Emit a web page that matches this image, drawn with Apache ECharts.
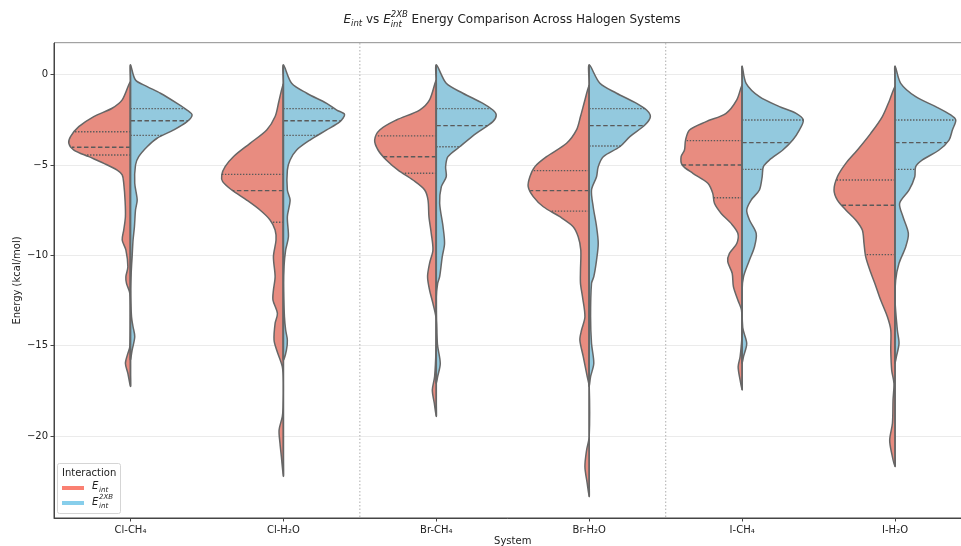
<!DOCTYPE html>
<html>
<head>
<meta charset="utf-8">
<script src="https://cdn.jsdelivr.net/npm/echarts@6/dist/echarts.min.js"></script>
<style>
  html, body { margin: 0; padding: 0; background: #fff; overflow: hidden; }
  #chart { width: 961px; height: 546px; }
</style>
</head>
<body>
<div id="chart"></div>
<script>
// categories
const systems = ["Cl-CH₄", "Cl-H₂O", "Br-CH₄", "Br-H₂O", "I-CH₄", "I-H₂O"];

// violin outlines: [energy, half width (category units)]
const clCh4Eint = [[-0.39,0],[-1.40,0.054],[-1.86,0.12],[-2.32,0.24],[-2.88,0.338],[-3.43,0.392],[-3.80,0.403],[-4.17,0.37],[-4.54,0.272],[-4.91,0.174],[-5.28,0.087],[-5.55,0.054],[-6.01,0.044],[-7.0,0.035],[-7.86,0.033],[-8.60,0.044],[-9.15,0.054],[-9.70,0.03],[-10.63,0.017],[-11.18,0.03],[-11.55,0.026],[-12.10,0.004],[-13.40,0],[-15.05,0.004],[-15.42,0.017],[-15.97,0.033],[-16.52,0.017],[-17.26,0]];
const clCh4Exb = [[0.54,0],[-0.30,0.033],[-0.66,0.109],[-1.03,0.196],[-1.59,0.305],[-1.96,0.37],[-2.23,0.403],[-2.60,0.37],[-3.06,0.283],[-3.52,0.174],[-3.99,0.109],[-4.54,0.054],[-5.0,0.033],[-6.01,0.028],[-6.94,0.044],[-7.49,0.033],[-8.41,0.026],[-9.15,0.017],[-10.07,0.011],[-10.62,0.007],[-11.92,0],[-13.40,0.007],[-13.95,0.017],[-14.5,0.028],[-15.24,0.011],[-15.79,0]];
const clH2oEint = [[-0.5,0],[-1.5,0.03],[-2.32,0.054],[-3.06,0.109],[-3.80,0.218],[-4.54,0.327],[-5.09,0.381],[-5.55,0.403],[-5.92,0.397],[-6.38,0.338],[-6.94,0.24],[-7.49,0.153],[-8.04,0.087],[-8.60,0.054],[-9.15,0.048],[-10.07,0.065],[-11.18,0.054],[-11.92,0.065],[-12.47,0.068],[-13.21,0.039],[-13.76,0.054],[-14.68,0.061],[-15.24,0.044],[-16.16,0.007],[-17.08,0],[-18.37,0.002],[-18.92,0.007],[-19.66,0.028],[-20.40,0.022],[-21.14,0.013],[-22.24,0]];
const clH2oExb = [[0.54,0],[-0.48,0.054],[-1.03,0.153],[-1.59,0.283],[-1.96,0.349],[-2.2,0.40],[-2.6,0.37],[-3.06,0.283],[-3.62,0.174],[-4.17,0.087],[-4.72,0.044],[-5.28,0.026],[-6.38,0.026],[-6.94,0.044],[-7.86,0.026],[-8.97,0.033],[-9.70,0.015],[-10.62,0.004],[-11.55,0],[-13.40,0.007],[-14.13,0.015],[-14.68,0.026],[-15.24,0.02],[-15.79,0]];
const brCh4Eint = [[-0.3,0],[-1.40,0.044],[-1.96,0.109],[-2.51,0.261],[-3.06,0.37],[-3.62,0.403],[-4.17,0.381],[-4.72,0.327],[-5.28,0.25],[-5.83,0.153],[-6.38,0.076],[-6.94,0.054],[-7.86,0.048],[-8.78,0.033],[-9.70,0.022],[-10.44,0.044],[-11.18,0.057],[-11.92,0.044],[-12.66,0.022],[-13.58,0],[-15.24,0.002],[-16.71,0.011],[-17.45,0.026],[-18.18,0.013],[-18.92,0]];
const brCh4Exb = [[0.54,0],[-0.48,0.065],[-1.03,0.174],[-1.59,0.305],[-1.96,0.37],[-2.23,0.392],[-2.60,0.37],[-3.25,0.261],[-3.99,0.153],[-4.54,0.076],[-5.09,0.061],[-5.65,0.065],[-6.20,0.033],[-7.12,0.022],[-8.41,0.044],[-9.34,0.054],[-10.07,0.039],[-11.18,0.022],[-11.55,0.009],[-12.3,0],[-14.87,0.007],[-15.97,0.026],[-16.71,0.009],[-17.08,0]];
const brH2oEint = [[-0.57,0],[-1.40,0.028],[-2.32,0.057],[-3.06,0.083],[-3.80,0.148],[-4.54,0.279],[-5.09,0.355],[-5.65,0.388],[-6.20,0.399],[-6.75,0.366],[-7.31,0.30],[-7.86,0.192],[-8.41,0.105],[-8.97,0.072],[-9.70,0.055],[-10.81,0.057],[-11.55,0.057],[-12.29,0.044],[-13.40,0.028],[-14.13,0.05],[-14.68,0.061],[-15.60,0.039],[-16.71,0.013],[-17.26,0],[-20.03,0],[-20.77,0.017],[-21.69,0.028],[-22.61,0.013],[-23.35,0]];
const brH2oExb = [[0.54,0],[-0.48,0.07],[-1.03,0.179],[-1.59,0.31],[-1.96,0.375],[-2.32,0.40],[-2.79,0.364],[-3.43,0.266],[-3.99,0.20],[-4.54,0.092],[-5.09,0.059],[-5.65,0.048],[-6.38,0.015],[-7.31,0.026],[-8.41,0.048],[-9.34,0.059],[-10.26,0.048],[-11.18,0.03],[-11.55,0.015],[-13.40,0.009],[-14.87,0.015],[-15.97,0.03],[-16.71,0.009],[-17.26,0]];
const iCh4Eint = [[-0.57,0],[-1.40,0.035],[-2.14,0.105],[-2.60,0.235],[-3.06,0.344],[-3.62,0.37],[-4.17,0.377],[-4.54,0.399],[-5.0,0.392],[-5.46,0.322],[-6.01,0.224],[-6.57,0.192],[-7.12,0.181],[-7.68,0.137],[-8.23,0.072],[-8.78,0.028],[-9.34,0.035],[-9.89,0.083],[-10.35,0.094],[-10.99,0.065],[-11.73,0.057],[-12.47,0.028],[-13.03,0.004],[-14.31,0],[-15.60,0.013],[-16.16,0.026],[-16.90,0.013],[-17.45,0]];
const iCh4Exb = [[0.48,0],[-0.48,0.026],[-1.22,0.113],[-1.77,0.244],[-2.14,0.353],[-2.51,0.40],[-3.06,0.375],[-3.62,0.331],[-4.17,0.266],[-4.72,0.179],[-5.09,0.139],[-5.65,0.131],[-6.38,0.113],[-6.94,0.059],[-7.49,0.03],[-8.04,0.048],[-8.78,0.092],[-9.52,0.081],[-10.26,0.048],[-11.18,0.009],[-11.92,0],[-14.0,0.004],[-14.87,0.03],[-15.60,0.009],[-15.97,0]];
const iH2oEint = [[-0.66,0],[-1.40,0.035],[-2.32,0.083],[-3.25,0.159],[-4.17,0.246],[-4.91,0.322],[-5.65,0.377],[-6.38,0.399],[-6.94,0.377],[-7.49,0.322],[-8.04,0.257],[-8.60,0.214],[-9.34,0.203],[-10.07,0.192],[-10.81,0.165],[-11.55,0.132],[-12.47,0.094],[-13.40,0.05],[-14.13,0.028],[-15.24,0.028],[-16.35,0.022],[-17.08,0.007],[-18.0,0.013],[-19.29,0.017],[-20.22,0.035],[-20.96,0.022],[-21.69,0]];
const iH2oExb = [[0.48,0],[-0.48,0.037],[-1.22,0.135],[-1.77,0.266],[-2.23,0.364],[-2.51,0.397],[-3.06,0.375],[-3.62,0.353],[-4.17,0.288],[-4.72,0.179],[-5.09,0.135],[-5.65,0.129],[-6.38,0.092],[-7.12,0.03],[-7.86,0.052],[-8.78,0.087],[-9.52,0.07],[-10.44,0.026],[-11.37,0.004],[-12.5,0],[-14.13,0.015],[-14.87,0.026],[-15.60,0.009],[-15.97,0]];

// quartiles [Q1, median, Q3]
const eintQuart = [[-3.16,-4.02,-4.45],[-5.52,-6.42,-8.17],[-3.39,-4.54,-5.46],[-5.31,-6.42,-7.55],[-3.65,-5.0,-6.81],[-5.83,-7.23,-9.96]];
const exbQuart = [[-1.88,-2.55,-3.36],[-1.88,-2.55,-3.36],[-1.88,-2.82,-3.99],[-1.88,-2.82,-3.95],[-2.51,-3.76,-5.24],[-2.51,-3.76,-5.24]];

// separators between halogen groups
const groupBreaks = [1.5, 3.5];

const eintProfiles = [clCh4Eint, clH2oEint, brCh4Eint, brH2oEint, iCh4Eint, iH2oEint];
const exbProfiles = [clCh4Exb, clH2oExb, brCh4Exb, brH2oExb, iCh4Exb, iH2oExb];

const redFill = "#E88C80";
const blueFill = "#93C9DE";
const edge = "#666666";

// width of the outline at energy v (for quartile line ends)
function widthAt(prof, v) {
  for (let k = 0; k < prof.length - 1; k++) {
    const a = prof[k], b = prof[k + 1];
    if (v <= a[0] && v >= b[0]) {
      const t = (a[0] - v) / (a[0] - b[0]);
      return a[1] + (b[1] - a[1]) * t;
    }
  }
  return 0;
}

function halfViolin(profiles, quarts, side, fill) {
  return function (params, api) {
    const i = api.value(0);
    const prof = profiles[i];
    const pts = prof.map(p => api.coord([i + side * p[1], p[0]]));
    // back up the centre line
    for (let k = prof.length - 2; k > 0; k--) {
      pts.push(api.coord([i, prof[k][0]]));
    }
    const children = [{
      type: "polygon",
      shape: { points: pts, smooth: 0.3 },
      style: { fill: fill, stroke: edge, lineWidth: 1.5 }
    }];
    quarts[i].forEach((q, k) => {
      const w = widthAt(prof, q);
      const a = api.coord([i, q]);
      const b = api.coord([i + side * w, q]);
      children.push({
        type: "line",
        shape: { x1: a[0], y1: a[1], x2: b[0], y2: b[1] },
        style: {
          stroke: "#5a5a5a",
          lineWidth: 1.4,
          lineDash: k === 1 ? [4.5, 2.5] : [1.4, 1.6]
        }
      });
    });
    // centre line
    const t = api.coord([i, prof[0][0]]);
    const bt = api.coord([i, prof[prof.length - 1][0]]);
    children.push({
      type: "line",
      shape: { x1: t[0], y1: t[1], x2: bt[0], y2: bt[1] },
      style: { stroke: edge, lineWidth: 1.5 }
    });
    return { type: "group", children: children };
  };
}

// text helpers for the math-style labels
const measureCtx = document.createElement("canvas").getContext("2d");
function textW(str, size, italic) {
  measureCtx.font = (italic ? "italic " : "") + size + "px 'DejaVu Sans'";
  return measureCtx.measureText(str).width;
}
function txt(str, x, y, size, italic) {
  return {
    type: "text", x: x, y: y, silent: true,
    style: {
      text: str, fontSize: size, fontFamily: "DejaVu Sans",
      fontStyle: italic ? "italic" : "normal", fill: "#222",
      verticalAlign: "middle", align: "left"
    }
  };
}

// title: E_int vs E_int^2XB Energy Comparison ...
function buildTitle(cx, cy) {
  const fs = 12, ss = 8.5;
  const rest = " Energy Comparison Across Halogen Systems";
  const parts = [];
  const wE = textW("E", fs, true), wInt = textW("int", ss, true), wVs = textW(" vs ", fs, false);
  const wSup = Math.max(textW("2XB", ss, true), wInt);
  const total = wE + wInt + wVs + wE + wSup + textW(rest, fs, false);
  let x = cx - total / 2;
  parts.push(txt("E", x, cy, fs, true)); x += wE;
  parts.push(txt("int", x, cy + 4, ss, true)); x += wInt;
  parts.push(txt(" vs ", x, cy, fs, false)); x += wVs;
  parts.push(txt("E", x, cy, fs, true)); x += wE;
  parts.push(txt("2XB", x, cy - 5, ss, true));
  parts.push(txt("int", x, cy + 4.5, ss, true)); x += wSup;
  parts.push(txt(rest, x, cy, fs, false));
  return parts;
}

function buildLegend() {
  const items = [];
  items.push({
    type: "rect", shape: { x: 57.5, y: 463.5, width: 63, height: 50, r: 2 },
    style: { fill: "rgba(255,255,255,0.8)", stroke: "#d5d5d5", lineWidth: 1 }, silent: true
  });
  items.push(txt("Interaction", 62, 473, 10, false));
  items.push({ type: "line", shape: { x1: 62, y1: 488, x2: 84, y2: 488 }, style: { stroke: "#FA8072", lineWidth: 4 } });
  items.push({ type: "line", shape: { x1: 62, y1: 503, x2: 84, y2: 503 }, style: { stroke: "#87CEEB", lineWidth: 4 } });
  items.push(txt("E", 92, 486, 10, true));
  items.push(txt("int", 99, 490, 7, true));
  items.push(txt("E", 92, 502, 10, true));
  items.push(txt("2XB", 99, 497, 7, true));
  items.push(txt("int", 99, 506, 7, true));
  return items;
}

const chart = echarts.init(document.getElementById("chart"), null, { renderer: "canvas" });

const option = {
  animation: false,
  backgroundColor: "#fff",
  textStyle: { fontFamily: "DejaVu Sans" },
  grid: {
    left: 54, top: 43, width: 917.5, height: 475,
    outerBoundsMode: "none",
    show: true, borderColor: "#444", borderWidth: 1, backgroundColor: "transparent"
  },
  xAxis: {
    type: "value", min: -0.5, max: 5.5,
    name: "System", nameLocation: "middle", nameGap: 18, nameMoveOverlap: false,
    nameTextStyle: { fontSize: 10, color: "#222" },
    axisLine: { onZero: false, lineStyle: { color: "#444", width: 1 } },
    axisTick: { show: true, length: 3.5, customValues: [0, 1, 2, 3, 4, 5], lineStyle: { color: "#444" } },
    axisLabel: { customValues: [0, 1, 2, 3, 4, 5], formatter: v => systems[Math.round(v)], fontSize: 10, color: "#222", margin: 7 },
    splitLine: { show: false }
  },
  yAxis: {
    type: "value", min: -24.53, max: 1.75, splitNumber: 5,
    name: "Energy (kcal/mol)", nameLocation: "middle", nameGap: 32, nameMoveOverlap: false,
    nameTextStyle: { fontSize: 10, color: "#222" },
    axisLine: { show: true, onZero: false, lineStyle: { color: "#444", width: 1 } },
    axisTick: { show: true, length: 3.5, lineStyle: { color: "#444" } },
    axisLabel: { fontSize: 10, color: "#222", margin: 6, showMinLabel: false, showMaxLabel: false,
      formatter: v => String(v).replace("-", "\u2212") },
    splitLine: { show: true, lineStyle: { color: "#ebebeb", width: 1 } }
  },
  graphic: buildTitle(512, 20).concat(buildLegend()),
  series: [
    {
      type: "custom", name: "separators", silent: true, z: 1,
      data: groupBreaks.map(b => [b]),
      renderItem: function (params, api) {
        const x = api.coord([api.value(0), 0])[0];
        const cs = params.coordSys;
        return {
          type: "line",
          shape: { x1: x, y1: cs.y, x2: x, y2: cs.y + cs.height },
          style: { stroke: "#bbbbbb", lineWidth: 1.2, lineDash: [1.5, 2] }
        };
      }
    },
    {
      type: "custom", name: "Eint", z: 3,
      data: systems.map((s, i) => [i]),
      renderItem: halfViolin(eintProfiles, eintQuart, -1, redFill)
    },
    {
      type: "custom", name: "E2XB", z: 3,
      data: systems.map((s, i) => [i]),
      renderItem: halfViolin(exbProfiles, exbQuart, 1, blueFill)
    }
  ]
};

chart.setOption(option);
window.addEventListener("resize", () => chart.resize());
</script>
</body>
</html>
